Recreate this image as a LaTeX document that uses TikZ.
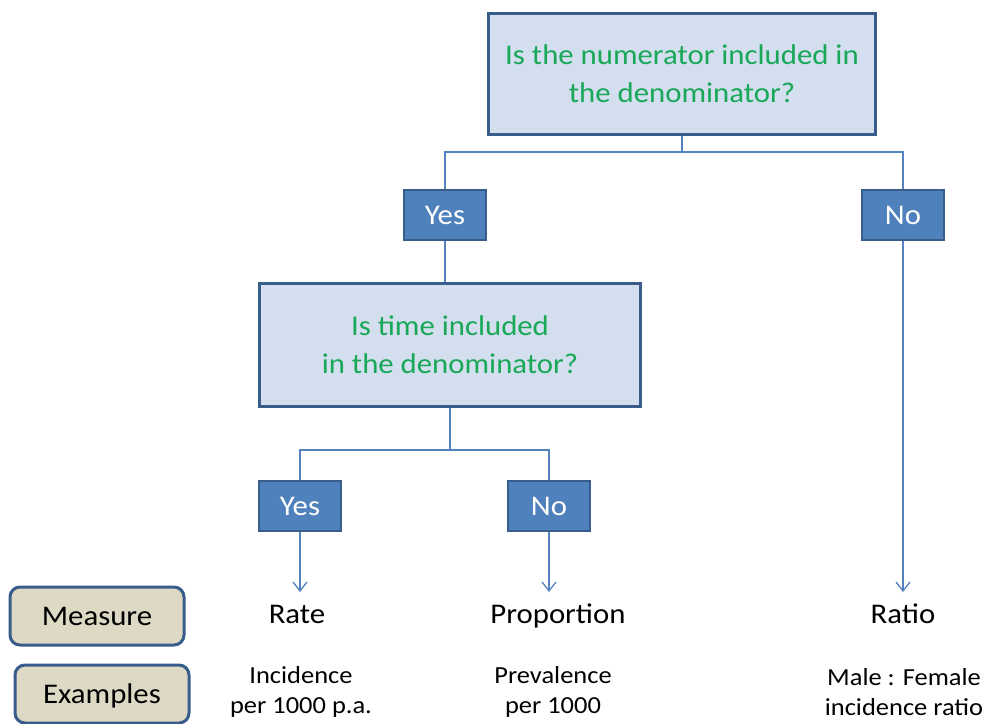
\documentclass[tikz,border=0pt]{standalone}
\usepackage{fontspec}
\setmainfont{Carlito}[FakeStretch=1.08]
\usetikzlibrary{positioning, arrows.meta}
\definecolor{boxline}{RGB}{56,93,138}
\definecolor{qfill}{RGB}{211,222,238}
\definecolor{qtext}{RGB}{24,168,88}
\definecolor{ansfill}{RGB}{79,129,189}
\definecolor{linkcol}{RGB}{84,130,190}
\definecolor{keyfill}{RGB}{221,217,196}
\newcommand{\bigfont}{\fontsize{28.5pt}{38pt}\selectfont}
\newcommand{\exfont}{\fontsize{24.5pt}{30pt}\selectfont}
\tikzset{
  question/.style={rectangle, draw=boxline, line width=3pt, fill=qfill, text=qtext, font=\bigfont, align=center, inner sep=0pt}, % the two question boxes
  answer/.style={rectangle, draw=boxline, line width=2.5pt, fill=ansfill, text=white, font=\bigfont, minimum width=82pt, minimum height=50pt, text height=18pt, text depth=0pt, inner sep=0pt}, % Yes / No boxes
  key/.style={rectangle, rounded corners=10pt, draw=boxline, line width=3pt, fill=keyfill, font=\bigfont, minimum width=174pt, minimum height=58pt, text height=18pt, text depth=0pt}, % row labels on the left
  measure/.style={font=\bigfont, anchor=north, text height=20pt, text depth=6pt, inner ysep=11pt},
  example/.style={font=\exfont, align=center},
  link/.style={draw=linkcol, line width=1.3pt},
  arrow/.style={link, -{Straight Barb[length=9pt,width=14pt]}}
}

\begin{document}
\begin{tikzpicture}[x=1pt, y=-1pt]
    \useasboundingbox (0,0) rectangle (987,723);

    \node[question, minimum width=387pt, minimum height=121pt] (numq) at (682,74) {Is the numerator included in\\the denominator?};
    \node[answer] (yes1) at (445,215) {Yes};
    \node[answer] (no1) at (903,215) {No};

    \node[question, minimum width=381pt, minimum height=123pt] (timeq) at (450,345) {Is time included\\in the denominator?};
    \node[answer] (yes2) at (300,506) {Yes};
    \node[answer] (no2) at (549,506) {No};

    \node[measure] (rate) at (297,592) {Rate};
    \node[measure] (prop) at (558,592) {Proportion};
    \node[measure] (ratio) at (903,592) {Ratio};

    \node[key] (measurekey) at (97,616) {Measure};
    \node[key] (examplekey) at (102,694) {Examples};

    \node[example] (rateex) at (301,692) {Incidence\\per 1000 p.a.};
    \node[example] (propex) at (553,692) {Prevalence\\per 1000};
    \node[example] (ratioex) at (904,692) {Male : Female\\incidence ratio};

    \draw[link] (numq.south) -- ++(0,16) -| (yes1.north);
    \draw[link] (numq.south) -- ++(0,16) -| (no1.north);
    \draw[link] (yes1.south) -- (yes1.south |- timeq.north);
    \draw[link] (timeq.south) -- ++(0,42) -| (yes2.north);
    \draw[link] (timeq.south) -- ++(0,42) -| (no2.north);

    \draw[arrow] (yes2.south) -- (yes2.south |- rate.north);
    \draw[arrow] (no2.south) -- (no2.south |- prop.north);
    \draw[arrow] (no1.south) -- (no1.south |- ratio.north);
\end{tikzpicture}
\end{document}
